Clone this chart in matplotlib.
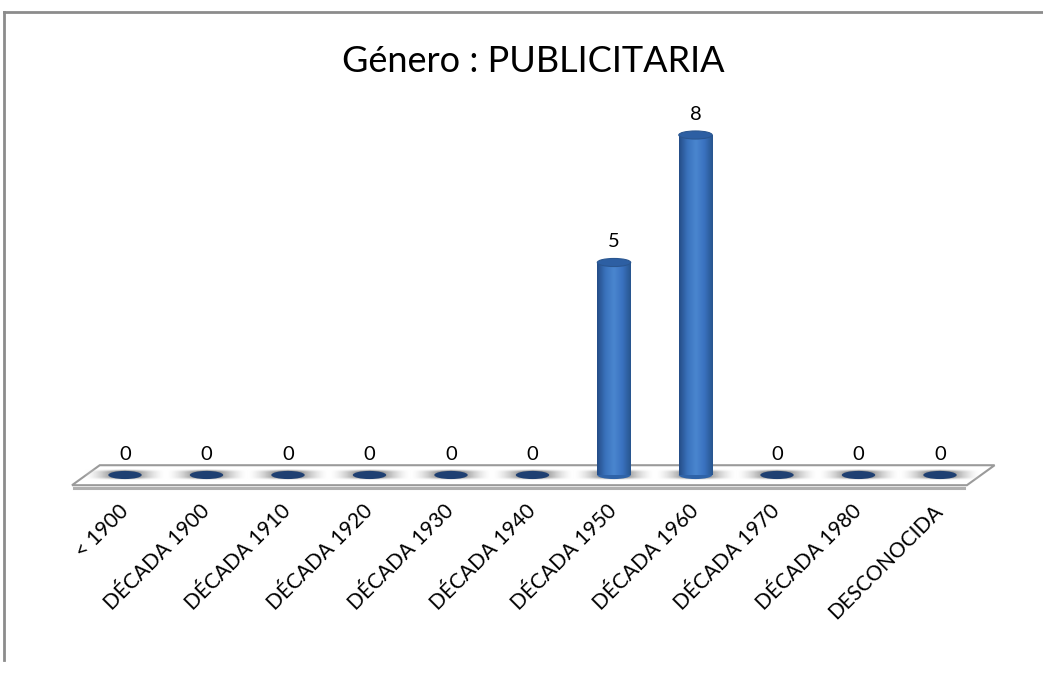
import numpy as np
import matplotlib
matplotlib.use("Agg")
import matplotlib.pyplot as plt
from matplotlib.patches import Ellipse, Polygon
from matplotlib.lines import Line2D
from matplotlib.colors import LinearSegmentedColormap

plt.rcParams['font.family'] = ['Lato', 'DejaVu Sans']

categorias = ['< 1900', 'DÉCADA 1900', 'DÉCADA 1910', 'DÉCADA 1920', 'DÉCADA 1930',
              'DÉCADA 1940', 'DÉCADA 1950', 'DÉCADA 1960', 'DÉCADA 1970',
              'DÉCADA 1980', 'DESCONOCIDA']
valores = [0, 0, 0, 0, 0, 0, 5, 8, 0, 0, 0]
titulo = 'Género : PUBLICITARIA'

W, H = 1043, 677
fig = plt.figure(figsize=(W / 100, H / 100), dpi=100)

# marco gris del grafico
fig.add_artist(Line2D([4 / W, 1], [1 - 12 / H, 1 - 12 / H], color='#8c8c8c', lw=2))
fig.add_artist(Line2D([4 / W, 4 / W], [1 - 12 / H, 1 - 660 / H], color='#8c8c8c', lw=2))

fig.text(533 / W, 1 - 62 / H, titulo, ha='center', va='center', fontsize=26,
         color='black')

ax = fig.add_axes([84.25 / W, (H - 500.5) / H, 896.5 / W, 408 / H])
ax.axis('off')

n = len(categorias)
x = np.arange(n)
w = 0.41
eh = 0.19

# suelo (plataforma)
piso = Polygon([[-0.65, -0.24], [-0.31, 0.23], [10.67, 0.23], [10.33, -0.24]],
               closed=True, facecolor='white', edgecolor='#9a9a9a', lw=1.5,
               clip_on=False, zorder=1)
ax.add_patch(piso)
ax.plot([-0.62, 10.3], [-0.31, -0.31], color='#b0b0b0', lw=2.2, clip_on=False, zorder=1)

# sombra gris en la base de cada columna
tx = np.linspace(-1, 1, 120)
ty = np.linspace(-1, 1, 12)
perfil_y = np.clip(1.3 - np.abs(ty) ** 2, 0, 1)
sombra = np.outer(perfil_y, np.clip(1 - np.abs(tx), 0, 1) ** 0.8)
cmap_s = LinearSegmentedColormap.from_list('s', [(1, 1, 1, 0), (0.25, 0.25, 0.25, 1.0)])
for i in x:
    ax.imshow(sombra, extent=(i - 0.5, i + 0.5, -0.12, 0.12), cmap=cmap_s, vmin=0, vmax=1,
              aspect='auto', zorder=2, interpolation='bilinear')

# columnas cilindricas
cmap_c = LinearSegmentedColormap.from_list('c', ['#254d88', '#3a73bd', '#4a86cf', '#3a72c0', '#28568f'])
grad = np.linspace(0, 1, 60).reshape(1, -1)
for i, v in zip(x, valores):
    if v == 0:
        ax.add_patch(Ellipse((i, 0), w, eh, facecolor='#1f4072', edgecolor='none', zorder=3))
    else:
        ax.add_patch(Ellipse((i, 0), w, eh, facecolor='#2f63a8', edgecolor='none', zorder=3))
        ax.imshow(grad, extent=(i - w / 2, i + w / 2, 0, v), cmap=cmap_c, aspect='auto',
                  zorder=4, interpolation='bilinear')
        ax.add_patch(Ellipse((i, v), w, eh, facecolor='#2d5fa3', edgecolor='#2a5690',
                             lw=0.8, zorder=5))
    ax.annotate(str(v), (i, v), xytext=(0, 15), textcoords='offset points',
                ha='center', va='center', fontsize=14.5)

ax.set_xlim(-0.5, 10.5)
ax.set_ylim(-0.6, 9)

for i, lab in zip(x, categorias):
    ax.text(i + 0.0, -0.78, lab, rotation=45, ha='right', va='center',
            rotation_mode='anchor', fontsize=15)

fig.savefig('out.png', dpi=100)
